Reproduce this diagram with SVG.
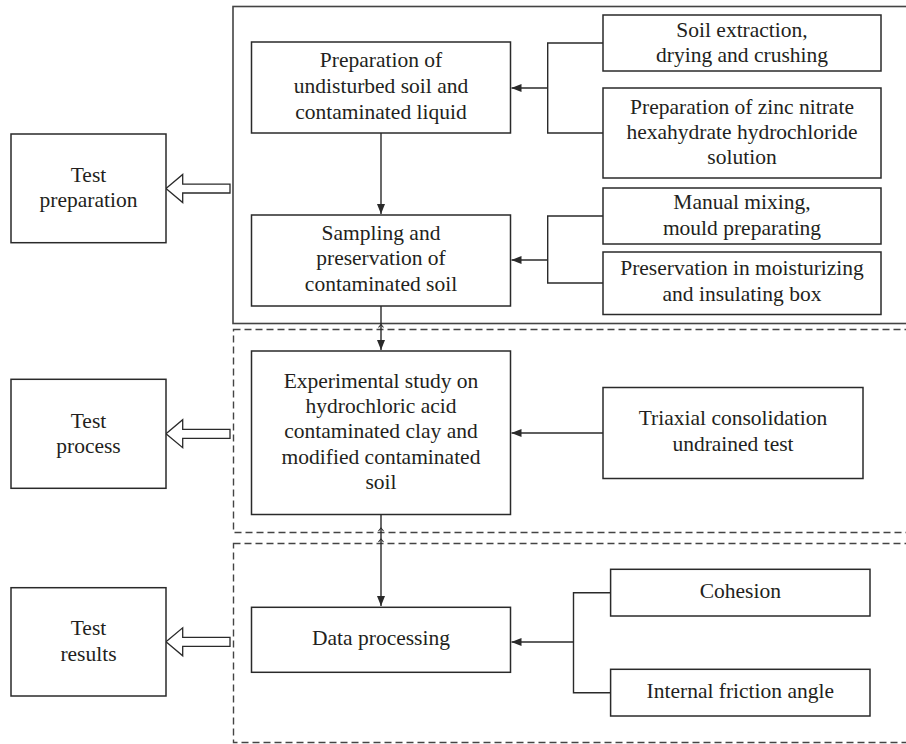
<svg xmlns="http://www.w3.org/2000/svg" width="906" height="744" viewBox="0 0 906 744">
<defs>
<marker id="ah" viewBox="0 0 10 8" refX="10" refY="4" markerWidth="10" markerHeight="8" markerUnits="userSpaceOnUse" orient="auto">
<path d="M0,0 L10,4 L0,8 Z" fill="#2a2a2a"/>
</marker>
</defs>
<style>
.box{fill:#fff;stroke:#2a2a2a;stroke-width:1.5}
.frame{fill:none;stroke:#444;stroke-width:1.6}
.dash{fill:none;stroke:#444;stroke-width:1.4;stroke-dasharray:7 4}
.ln{fill:none;stroke:#2a2a2a;stroke-width:1.4}
.hop{fill:none;stroke:#2a2a2a;stroke-width:1.1}
.big{fill:#fff;stroke:#2a2a2a;stroke-width:1.3}
text{font-family:"Liberation Serif","Times New Roman",serif;font-size:21.5px;fill:#231f20;text-anchor:middle}
</style>
<rect width="906" height="744" fill="#fff"/>

<g id="sections">
<rect class="frame" x="233" y="6.5" width="700" height="317"/>
<rect class="dash" x="233.5" y="329.5" width="700" height="203"/>
<rect class="dash" x="233.5" y="543.5" width="700" height="199"/>
</g>

<g id="connectors">
<path class="ln" d="M381,133 V214" marker-end="url(#ah)"/>
<path class="ln" d="M381,306 V350" marker-end="url(#ah)"/>
<path class="ln" d="M381,514 V606" marker-end="url(#ah)"/>
<path class="hop" d="M378.5,327.5 L381,324.5 L383.5,327.5"/>
<path class="hop" d="M378.5,531 L381,528 L383.5,531"/>
<path class="hop" d="M378.5,542 L381,539 L383.5,542"/>
<path class="ln" d="M603,43 H547.7 V133 H603"/>
<path class="ln" d="M547.7,88 H511.5" marker-end="url(#ah)"/>
<path class="ln" d="M603,216 H547.7 V283 H603"/>
<path class="ln" d="M547.7,260 H511.5" marker-end="url(#ah)"/>
<path class="ln" d="M603,433 H511.5" marker-end="url(#ah)"/>
<path class="ln" d="M610.6,592.7 H573.5 V692.7 H610.6"/>
<path class="ln" d="M573.5,642 H511.5" marker-end="url(#ah)"/>
<polygon class="big" points="166,188.5 182.7,174.5 182.7,184.2 230,184.2 230,193 182.7,193 182.7,202.5"/>
<polygon class="big" points="166,433.7 182.7,419.7 182.7,429.3 230,429.3 230,438.3 182.7,438.3 182.7,447.7"/>
<polygon class="big" points="166,641.8 182.7,627.8 182.7,637.3 230,637.3 230,646.3 182.7,646.3 182.7,655.8"/>
</g>

<g id="test-preparation">
<rect class="box" x="11" y="134" width="155" height="108.7"/>
<text x="88.5" y="182">Test</text>
<text x="88.5" y="207">preparation</text>
</g>
<g id="test-process">
<rect class="box" x="11" y="379.3" width="155" height="109"/>
<text x="88.5" y="427.7">Test</text>
<text x="88.5" y="453">process</text>
</g>
<g id="test-results">
<rect class="box" x="11" y="587.7" width="155" height="108.3"/>
<text x="88.5" y="635.3">Test</text>
<text x="88.5" y="661.3">results</text>
</g>

<g id="prep-soil-liquid">
<rect class="box" x="251.5" y="42" width="259" height="91"/>
<text x="381" y="67">Preparation of</text>
<text x="381" y="93">undisturbed soil and</text>
<text x="381" y="118.7">contaminated liquid</text>
</g>
<g id="soil-extraction">
<rect class="box" x="603" y="15" width="278" height="56"/>
<text x="742" y="37">Soil extraction,</text>
<text x="742" y="62">drying and crushing</text>
</g>
<g id="zinc-nitrate">
<rect class="box" x="603" y="88" width="278" height="90"/>
<text x="742" y="113.7">Preparation of zinc nitrate</text>
<text x="742" y="138.7">hexahydrate hydrochloride</text>
<text x="742" y="163.7">solution</text>
</g>
<g id="sampling">
<rect class="box" x="251.5" y="215" width="259" height="91"/>
<text x="381" y="240.3">Sampling and</text>
<text x="381" y="265.3">preservation of</text>
<text x="381" y="291">contaminated soil</text>
</g>
<g id="manual-mixing">
<rect class="box" x="603" y="188" width="278" height="56"/>
<text x="742" y="209">Manual mixing,</text>
<text x="742" y="235">mould preparating</text>
</g>
<g id="preservation-box">
<rect class="box" x="603" y="252" width="278" height="62.5"/>
<text x="742" y="275.3">Preservation in moisturizing</text>
<text x="742" y="301">and insulating box</text>
</g>
<g id="experimental-study">
<rect class="box" x="251.5" y="351" width="259" height="163.5"/>
<text x="381" y="387.7">Experimental study on</text>
<text x="381" y="412.7">hydrochloric acid</text>
<text x="381" y="438">contaminated clay and</text>
<text x="381" y="463.7">modified contaminated</text>
<text x="381" y="488.7">soil</text>
</g>
<g id="triaxial">
<rect class="box" x="603" y="387.5" width="260" height="91"/>
<text x="733" y="425.3">Triaxial consolidation</text>
<text x="733" y="451.3">undrained test</text>
</g>
<g id="data-processing">
<rect class="box" x="251.5" y="607.3" width="259" height="65"/>
<text x="381" y="645.3">Data processing</text>
</g>
<g id="cohesion">
<rect class="box" x="610.6" y="569.3" width="259.4" height="46.7"/>
<text x="740.3" y="598">Cohesion</text>
</g>
<g id="friction-angle">
<rect class="box" x="610.6" y="669.3" width="259.4" height="46.7"/>
<text x="740.3" y="698">Internal friction angle</text>
</g>
</svg>
